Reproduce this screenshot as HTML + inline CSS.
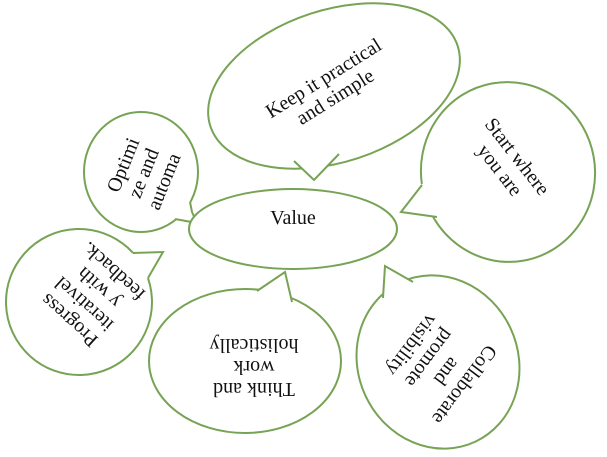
<!DOCTYPE html>
<html><head><style>
html,body{margin:0;padding:0;background:#fff;}
svg{display:block;}
text{font-family:"Liberation Serif",serif;font-size:20px;fill:#111;}
</style></head><body>
<svg width="607" height="457" viewBox="0 0 607 457">
<g stroke="#77a354" stroke-width="2" fill="#fff">
<ellipse cx="334" cy="86" rx="130" ry="76" transform="rotate(-18 334 86)"/>
<polygon points="290,150 294,161 314,180 339,154 340,145" stroke="none"/>
<polyline points="294,161 314,180 339,154" fill="none"/>
<ellipse cx="141" cy="172" rx="57" ry="60"/>
<polygon points="182,198 190,202 192,212 197,223 175,219 172,210" stroke="none"/>
<polyline points="190,202 192,212 197,223 175,219" fill="none"/>
<ellipse cx="508" cy="172" rx="87" ry="90" transform="rotate(-10 508 172)"/>
<polygon points="430,180 420,185 401,212 437,217 445,210" stroke="none"/>
<polyline points="422,185 401,212 437,217" fill="none"/>
<ellipse cx="79" cy="302" rx="73" ry="73" transform="rotate(20 79 302)"/>
<polygon points="125,258 133,253 163,252 148,278 140,282" stroke="none"/>
<polyline points="133,253 163,252 148,278" fill="none"/>
<ellipse cx="245" cy="361" rx="96" ry="72"/>
<polygon points="252,298 257,291 285,272 292,302 290,310" stroke="none"/>
<polyline points="257,291 285,272 292,302" fill="none"/>
<ellipse cx="438" cy="362" rx="80" ry="88" transform="rotate(-25 438 362)"/>
<polygon points="390,305 383,298 385,266 413,282 418,292" stroke="none"/>
<polyline points="383,298 385,266 413,282" fill="none"/>
<ellipse cx="293" cy="229" rx="104" ry="40"/>
</g>
<text x="293" y="224" text-anchor="middle">Value</text>
<g transform="translate(329,87) rotate(-32)" text-anchor="middle">
<text x="0" y="-4">Keep it practical</text>
<text x="0" y="18">and simple</text>
</g>
<g transform="translate(143,173) rotate(-68)" text-anchor="middle">
<text x="0" y="-15">Optimi</text>
<text x="0" y="7">ze and</text>
<text x="0" y="29">automa</text>
</g>
<g transform="translate(509,163) rotate(52)" text-anchor="middle">
<text x="0" y="-4">Start where</text>
<text x="0" y="18">you are</text>
</g>
<g transform="translate(85,303) rotate(222)" text-anchor="middle">
<text x="0" y="-17">Progress</text>
<text x="0" y="5">iterativel</text>
<text x="0" y="27">y with</text>
<text x="0" y="49">feedback.</text>
</g>
<g transform="translate(254,362) rotate(180)" text-anchor="middle">
<text x="0" y="-21">Think and</text>
<text x="0" y="1">work</text>
<text x="0" y="23">holistically</text>
</g>
<g transform="translate(441,367) rotate(127)" text-anchor="middle">
<text x="0" y="-23">Collaborate</text>
<text x="0" y="-1">and</text>
<text x="0" y="21">promote</text>
<text x="0" y="43">visibility</text>
</g>
</svg>
</body></html>
